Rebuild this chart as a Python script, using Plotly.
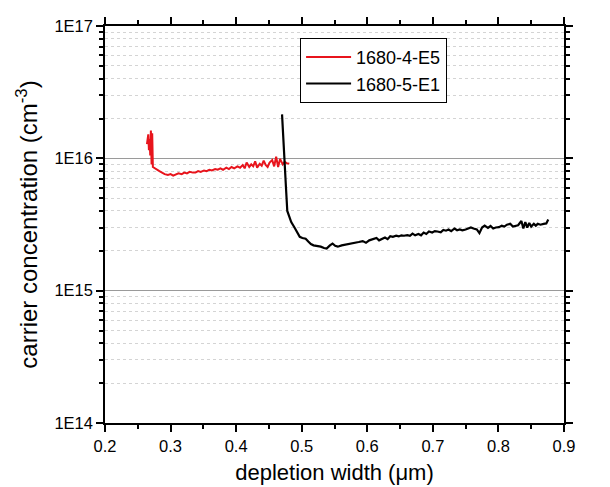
import plotly.graph_objects as go

# ---- data ----
red_name = "1680-4-E5"
red_x = [0.264, 0.266, 0.267, 0.268, 0.269, 0.270, 0.271, 0.272, 0.273, 0.275,
         0.279, 0.283, 0.287, 0.291, 0.296, 0.300, 0.304, 0.308, 0.312, 0.317,
         0.321, 0.325, 0.329, 0.334, 0.338, 0.342, 0.346, 0.351, 0.355, 0.359,
         0.363, 0.368, 0.372, 0.376, 0.380, 0.385, 0.389, 0.393, 0.397, 0.402,
         0.406, 0.410, 0.413, 0.416, 0.420, 0.423, 0.426, 0.429, 0.432, 0.436,
         0.439, 0.442, 0.445, 0.448, 0.451, 0.455, 0.458, 0.461, 0.464, 0.467,
         0.471, 0.474, 0.477, 0.481]
red_y_e15 = [12.8, 15.2, 11.5, 14.0, 10.5, 16.2, 9.0, 15.5, 8.6, 8.5,
             8.3, 8.0, 7.8, 7.6, 7.5, 7.6, 7.4, 7.6, 7.7, 7.6,
             7.8, 7.7, 7.9, 7.8, 7.8, 8.0, 7.9, 8.1, 8.0, 8.2,
             8.1, 8.3, 8.2, 8.4, 8.2, 8.5, 8.3, 8.6, 8.4, 8.7,
             8.5, 8.9, 8.4, 9.3, 8.6, 9.0, 8.7, 9.5, 8.5, 9.1,
             8.8, 9.6, 8.9, 8.6, 9.3, 9.7, 8.7, 10.3, 8.6, 9.9,
             9.0, 9.4, 9.2, 9.1]

black_name = "1680-5-E1"
black_x = [0.470, 0.472, 0.474, 0.476, 0.478, 0.481, 0.484, 0.489, 0.493, 0.497,
           0.501, 0.506, 0.510, 0.514, 0.518, 0.524, 0.529, 0.534, 0.538, 0.543,
           0.547, 0.551, 0.555, 0.561, 0.566, 0.571, 0.577, 0.582, 0.587, 0.593,
           0.598, 0.603, 0.609, 0.614, 0.618, 0.622, 0.627, 0.631, 0.635, 0.639,
           0.644, 0.648, 0.652, 0.656, 0.661, 0.665, 0.669, 0.673, 0.678, 0.682,
           0.686, 0.690, 0.694, 0.699, 0.703, 0.707, 0.712, 0.716, 0.720, 0.724,
           0.728, 0.733, 0.737, 0.741, 0.745, 0.750, 0.754, 0.758, 0.762, 0.767,
           0.771, 0.775, 0.779, 0.784, 0.788, 0.792, 0.796, 0.801, 0.805, 0.809,
           0.813, 0.818, 0.822, 0.826, 0.830, 0.835, 0.838, 0.841, 0.844, 0.847,
           0.850, 0.854, 0.857, 0.860, 0.864, 0.869, 0.873, 0.876]
black_y_e15 = [21.5, 15.0, 9.0, 6.0, 4.0, 3.6, 3.3, 3.0, 2.75, 2.55,
               2.5, 2.47, 2.35, 2.25, 2.2, 2.18, 2.15, 2.1, 2.08, 2.2,
               2.27, 2.18, 2.15, 2.2, 2.22, 2.26, 2.28, 2.3, 2.33, 2.37,
               2.3, 2.4, 2.47, 2.5, 2.4, 2.45, 2.52, 2.45, 2.58, 2.55,
               2.6, 2.57, 2.62, 2.6, 2.63, 2.6, 2.7, 2.62, 2.68, 2.62,
               2.75, 2.68, 2.8, 2.75, 2.82, 2.8, 2.76, 2.88, 2.84, 2.9,
               2.82, 2.95, 2.86, 2.9, 2.86, 2.9, 2.95, 3.0, 2.95, 2.9,
               2.72, 3.0, 3.1, 2.98, 3.08, 2.95, 3.0, 3.02, 3.1, 3.05,
               3.15, 3.2, 3.05, 3.08, 3.12, 3.36, 2.95, 3.3, 3.0, 3.25,
               3.05, 3.2, 3.1, 3.2, 3.15, 3.2, 3.22, 3.45]

x_ticks = [0.2, 0.3, 0.4, 0.5, 0.6, 0.7, 0.8, 0.9]
x_ticklabels = ["0.2", "0.3", "0.4", "0.5", "0.6", "0.7", "0.8", "0.9"]
y_ticks = [1e14, 1e15, 1e16, 1e17]
y_ticklabels = ["1E14", "1E15", "1E16", "1E17"]

x_title = "depletion width (μm)"
y_title = "carrier concentration (cm<sup>-3</sup>)"

# ---- figure ----
red_y = [v * 1e15 for v in red_y_e15]
black_y = [v * 1e15 for v in black_y_e15]

minor_y = [m * d for d in (1e14, 1e15, 1e16) for m in range(2, 10)]

fig = go.Figure()
fig.add_trace(go.Scatter(x=red_x, y=red_y, mode="lines", name=red_name,
                         line=dict(color="#e8141c", width=2)))
fig.add_trace(go.Scatter(x=black_x, y=black_y, mode="lines", name=black_name,
                         line=dict(color="black", width=2.2)))

font_family = "Liberation Sans, Arial, sans-serif"

fig.update_layout(
    width=610, height=487,
    margin=dict(l=97, r=54, t=9, b=72),
    paper_bgcolor="white", plot_bgcolor="white",
    font=dict(family=font_family, size=16, color="black"),
    showlegend=True,
    legend=dict(x=0.425, y=0.97, xanchor="left", yanchor="top",
                bordercolor="black", borderwidth=1, bgcolor="white",
                font=dict(size=18, color="black"),
                tracegroupgap=0, itemwidth=45),
)

fig.update_xaxes(
    range=[0.2, 0.9],
    tickmode="array", tickvals=x_ticks, ticktext=x_ticklabels,
    ticks="outside", ticklen=7, tickwidth=1.5, tickcolor="black",
    minor=dict(tickmode="linear", tick0=0.25, dtick=0.1, ticks="outside",
               ticklen=4, tickwidth=1.5, tickcolor="black", showgrid=False),
    showline=True, linecolor="black", linewidth=1.5, mirror="allticks",
    showgrid=False, zeroline=False,
    tickfont=dict(size=16.5),
    title=dict(text=x_title, font=dict(size=22), standoff=11),
)

fig.update_yaxes(
    type="log", range=[14, 17],
    tickmode="array", tickvals=y_ticks, ticktext=y_ticklabels,
    ticks="outside", ticklen=7, tickwidth=1.5, tickcolor="black",
    minor=dict(tickmode="array", tickvals=minor_y, ticks="outside",
               ticklen=4, tickwidth=1.5, tickcolor="black",
               showgrid=True, gridcolor="#d4d4d4", griddash="dot", gridwidth=1),
    showline=True, linecolor="black", linewidth=1.5, mirror="allticks",
    showgrid=True, gridcolor="#9a9a9a", gridwidth=1, zeroline=False,
    tickfont=dict(size=16.5),
    title=dict(text=y_title, font=dict(size=24), standoff=10),
)

fig.write_html("out.html")
